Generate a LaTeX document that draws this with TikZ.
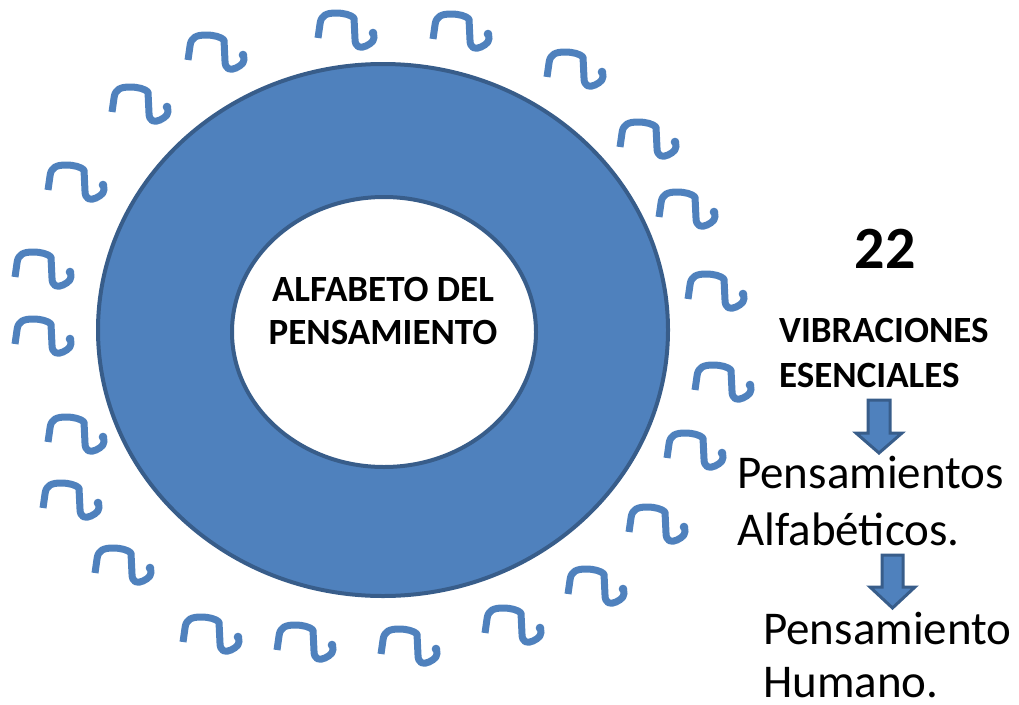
\documentclass[tikz,border=0pt]{standalone}
\usepackage{fontspec}
\setmainfont{Carlito}
\usetikzlibrary{shapes.geometric}
\definecolor{accfill}{HTML}{4F81BD}
\definecolor{accline}{HTML}{385D8A}
\tikzset{
  wave/.style={draw=accfill, line width=7pt, line cap=butt, line join=round},
  squiggle/.pic={
    \draw[wave] (0,0) -- (2,-14) .. controls (3,-23) and (9,-25) .. (18,-25)
      .. controls (26,-25) and (33,-23) .. (36,-20) -- (37,1)
      .. controls (37,9) and (42,11) .. (48,8)
      .. controls (54,5) and (58,2) .. (55,-5);
    \fill[accfill] (55,-5) circle (4.3pt);
  },
  ring/.style={ellipse, draw=accline, line width=4pt, inner sep=0pt},
  blockarrow/.style={fill=accfill, draw=accline, line width=3pt, line join=miter},
  boldtxt/.style={font=\fontsize{37}{45}\selectfont\bfseries, inner sep=0pt},
  bigtxt/.style={font=\fontsize{47}{57}\selectfont, inner sep=0pt},
}
\begin{document}
\begin{tikzpicture}[x=1pt, y=-1pt]
\useasboundingbox (0,0) rectangle (1019,704);
% ring
\node[ring, fill=accfill, minimum width=570pt, minimum height=532pt] (outer) at (383,330) {};
\node[ring, fill=white, minimum width=304pt, minimum height=270pt] (inner) at (384,332) {};
\node[boldtxt, anchor=base] (t1) at (383,301) {ALFABETO DEL};
\node[boldtxt, anchor=base] (t2) at (383,344) {PENSAMIENTO};
% squiggles
\foreach \p [count=\i] in {(48,190),(112,112),(188,60),(318,38),(433,39),(547,77),(620,147),(659,217),(688,299),(695,390),(667,458),(629,532),(568,594),(485,633),(381,654),(277,650),(183,642),(95,573),(43,508),(48,442),(15,344),(15,277)}
  \pic (s\i) at \p {squiggle};
% right column
\node[font=\fontsize{60}{70}\selectfont\bfseries, inner sep=0pt, anchor=base] (n22) at (885,268) {22};
\node[boldtxt, anchor=base west] (v1) at (779,342) {VIBRACIONES};
\node[boldtxt, anchor=base west] (v2) at (779,387) {ESENCIALES};
\draw[blockarrow] (868,400) -- (890,400) -- (890,433) -- (902,433) -- (879,453) -- (856,433) -- (868,433) -- cycle;
\node[bigtxt, anchor=base west] (p1) at (737,488) {Pensamientos};
\node[bigtxt, anchor=base west] (p2) at (737,545) {Alfabéticos.};
\draw[blockarrow] (882,555) -- (903,555) -- (903,587) -- (915,587) -- (892.5,608) -- (870,587) -- (882,587) -- cycle;
\node[bigtxt, anchor=base west] (h1) at (763,644) {Pensamiento};
\node[bigtxt, anchor=base west] (h2) at (763,697) {Humano.};
\end{tikzpicture}
\end{document}
